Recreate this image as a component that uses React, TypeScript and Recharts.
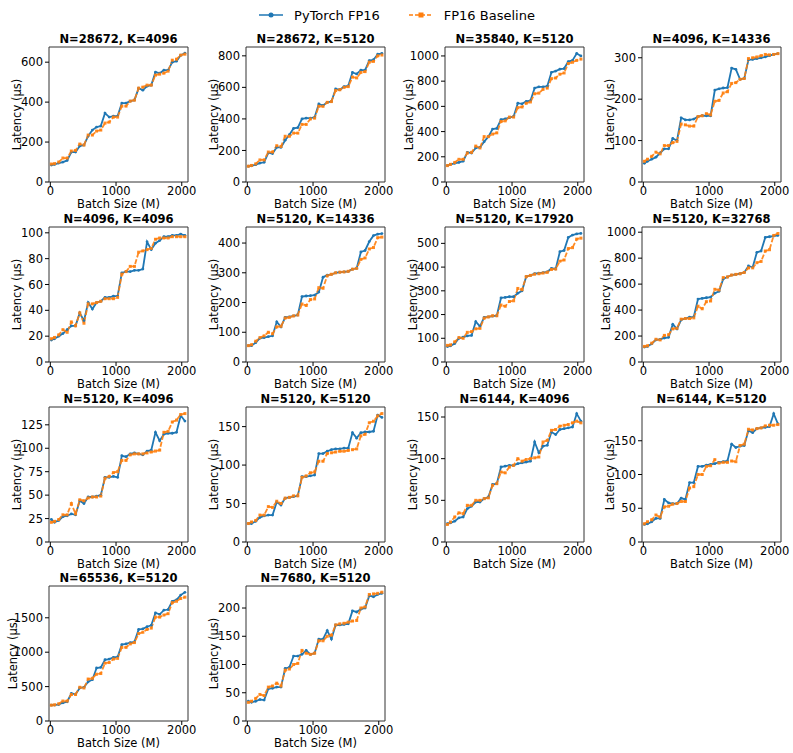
import React from 'react';
import { LineChart, Line, XAxis, YAxis, ReferenceArea } from 'recharts';

const FONT = '"DejaVu Sans", Verdana, sans-serif';
const BLUE = '#1f77b4';
const ORANGE = '#ff7f0e';

// ---------- data ----------
const batchSizes = [16, 64, 128, 192, 256, 320, 384, 448, 512, 576, 640, 704, 768, 832, 896, 960, 1024, 1088, 1152, 1216, 1280, 1344, 1408, 1472, 1536, 1600, 1664, 1728, 1792, 1856, 1920, 1984, 2048];
const xTicks = [0, 1000, 2000];

const titles = [
  'N=28672, K=4096', 'N=28672, K=5120', 'N=35840, K=5120', 'N=4096, K=14336',
  'N=4096, K=4096', 'N=5120, K=14336', 'N=5120, K=17920', 'N=5120, K=32768',
  'N=5120, K=4096', 'N=5120, K=5120', 'N=6144, K=4096', 'N=6144, K=5120',
  'N=65536, K=5120', 'N=7680, K=5120',
];

const yTicks1 = [0, 200, 400, 600];
const yTicks2 = [0, 200, 400, 600, 800];
const yTicks3 = [0, 200, 400, 600, 800, 1000];
const yTicks4 = [0, 100, 200, 300];
const yTicks5 = [0, 20, 40, 60, 80, 100];
const yTicks6 = [0, 100, 200, 300, 400];
const yTicks7 = [0, 100, 200, 300, 400, 500];
const yTicks8 = [0, 200, 400, 600, 800, 1000];
const yTicks9 = [0, 25, 50, 75, 100, 125];
const yTicks10 = [0, 50, 100, 150];
const yTicks11 = [0, 50, 100, 150];
const yTicks12 = [0, 50, 100, 150];
const yTicks13 = [0, 500, 1000, 1500];
const yTicks14 = [0, 50, 100, 150, 200];

const torch1 = [85, 88, 95, 100, 108, 150, 150, 180, 185, 230, 260, 275, 280, 345, 325, 330, 330, 395, 395, 405, 410, 470, 460, 480, 485, 550, 545, 560, 560, 600, 605, 635, 645];
const base1 = [90, 92, 100, 120, 120, 155, 158, 190, 185, 235, 235, 255, 260, 295, 300, 325, 325, 380, 380, 405, 410, 470, 475, 485, 485, 535, 540, 545, 555, 610, 615, 635, 640];
const torch2 = [100, 103, 110, 120, 125, 185, 180, 220, 220, 265, 300, 340, 345, 400, 405, 405, 410, 495, 485, 505, 510, 590, 585, 605, 610, 695, 685, 710, 710, 770, 775, 810, 815];
const base2 = [100, 105, 115, 140, 140, 190, 190, 230, 225, 290, 290, 310, 310, 365, 365, 400, 405, 480, 480, 505, 510, 580, 585, 600, 605, 665, 660, 695, 700, 760, 765, 800, 805];
const torch3 = [130, 140, 148, 155, 165, 235, 230, 270, 275, 320, 360, 420, 425, 495, 500, 510, 520, 625, 620, 640, 645, 745, 755, 755, 760, 870, 880, 895, 900, 955, 965, 1020, 1000];
const base3 = [130, 140, 155, 180, 180, 230, 235, 285, 270, 360, 360, 380, 390, 480, 485, 515, 515, 590, 595, 625, 635, 700, 705, 735, 745, 820, 825, 855, 865, 940, 950, 965, 975];
const torch4 = [45, 50, 55, 60, 70, 80, 80, 105, 100, 155, 150, 150, 152, 158, 160, 160, 160, 222, 225, 227, 228, 275, 272, 248, 250, 295, 296, 298, 300, 302, 305, 308, 310];
const base4 = [50, 55, 62, 72, 68, 88, 88, 95, 98, 140, 138, 135, 135, 158, 160, 165, 162, 195, 197, 215, 218, 238, 240, 248, 250, 298, 300, 302, 305, 308, 307, 308, 310];
const torch5 = [17, 18, 20, 22, 25, 28, 28, 38, 32, 46, 41, 46, 47, 50, 50, 51, 51, 69, 70, 70, 71, 71, 72, 93, 87, 92, 94, 97, 97, 98, 98, 99, 98];
const base5 = [18, 19, 21, 25, 23, 31, 28, 38, 30, 45, 45, 46, 47, 49, 49, 49, 50, 68, 70, 74, 74, 85, 86, 87, 88, 95, 96, 96, 96, 97, 97, 97, 97];
const torch6 = [55, 55, 65, 80, 82, 85, 88, 135, 118, 150, 152, 155, 158, 220, 222, 223, 225, 235, 285, 292, 295, 300, 302, 303, 305, 312, 315, 370, 375, 405, 425, 430, 432];
const base6 = [55, 58, 70, 82, 88, 100, 95, 118, 120, 148, 150, 155, 158, 195, 190, 210, 212, 250, 248, 290, 295, 300, 302, 303, 305, 312, 315, 345, 350, 380, 385, 418, 420];
const torch7 = [65, 68, 78, 100, 105, 110, 112, 170, 150, 188, 190, 193, 195, 270, 272, 275, 275, 290, 300, 360, 365, 372, 375, 377, 380, 395, 392, 465, 470, 525, 535, 540, 542];
const base7 = [70, 72, 85, 103, 100, 125, 128, 140, 142, 185, 190, 195, 195, 240, 235, 255, 258, 310, 305, 360, 365, 370, 372, 375, 378, 390, 392, 425, 430, 478, 482, 518, 522];
const torch8 = [115, 120, 140, 170, 175, 185, 190, 290, 255, 325, 335, 345, 348, 485, 490, 495, 500, 530, 545, 640, 655, 670, 675, 680, 690, 740, 730, 845, 855, 960, 965, 970, 975];
const base8 = [120, 125, 145, 175, 170, 205, 210, 255, 260, 330, 335, 335, 340, 430, 410, 465, 470, 560, 555, 650, 655, 670, 675, 680, 690, 725, 725, 765, 775, 855, 865, 975, 990];
const torch9 = [24, 21, 23, 27, 28, 30, 29, 44, 41, 48, 48, 49, 50, 69, 69, 70, 69, 92, 91, 94, 95, 94, 93, 97, 98, 117, 108, 115, 116, 116, 117, 135, 129];
const base9 = [21, 22, 24, 29, 29, 41, 30, 45, 44, 47, 48, 48, 49, 68, 70, 74, 75, 87, 87, 93, 94, 94, 94, 95, 96, 97, 98, 117, 118, 128, 130, 136, 137];
const torch10 = [24, 24, 27, 32, 34, 35, 35, 52, 48, 57, 58, 59, 60, 85, 85, 86, 87, 115, 115, 118, 120, 121, 121, 122, 122, 142, 135, 142, 143, 143, 144, 165, 162];
const base10 = [24, 26, 28, 35, 35, 46, 45, 53, 50, 57, 58, 60, 60, 84, 86, 90, 91, 105, 105, 115, 116, 117, 118, 118, 119, 120, 121, 138, 140, 155, 157, 164, 167];
const torch11 = [22, 23, 25, 29, 30, 40, 43, 48, 48, 52, 54, 69, 70, 90, 91, 92, 92, 94, 95, 96, 97, 120, 107, 115, 116, 132, 129, 135, 136, 137, 138, 154, 145];
const base11 = [21, 24, 30, 35, 34, 44, 44, 50, 50, 52, 53, 68, 70, 84, 83, 90, 92, 100, 97, 99, 100, 101, 102, 120, 122, 134, 135, 139, 140, 141, 143, 145, 143];
const torch12 = [26, 27, 30, 35, 35, 63, 58, 57, 57, 65, 63, 88, 88, 112, 112, 114, 115, 116, 118, 119, 120, 145, 140, 142, 143, 165, 162, 168, 169, 170, 171, 190, 175];
const base12 = [27, 30, 33, 40, 37, 52, 53, 56, 57, 60, 60, 80, 82, 100, 100, 112, 113, 122, 117, 118, 118, 120, 119, 143, 145, 167, 166, 168, 169, 172, 173, 173, 174];
const torch13 = [230, 232, 240, 265, 280, 400, 390, 480, 490, 570, 600, 770, 780, 890, 900, 925, 930, 1110, 1120, 1140, 1150, 1330, 1340, 1370, 1390, 1570, 1550, 1610, 1620, 1740, 1760, 1830, 1870];
const base13 = [230, 235, 250, 290, 290, 385, 385, 490, 480, 610, 620, 680, 690, 840, 850, 900, 910, 1070, 1070, 1120, 1140, 1270, 1290, 1330, 1350, 1510, 1510, 1540, 1560, 1720, 1740, 1780, 1800];
const torch14 = [35, 33, 35, 38, 37, 57, 58, 60, 60, 93, 95, 115, 115, 118, 125, 118, 120, 145, 145, 160, 145, 170, 170, 171, 172, 195, 193, 198, 200, 222, 220, 224, 226];
const base14 = [33, 35, 40, 47, 45, 60, 62, 67, 62, 90, 92, 100, 102, 125, 120, 118, 120, 142, 142, 150, 152, 170, 172, 173, 175, 177, 178, 200, 202, 224, 225, 226, 228];

const torchSeries = [torch1, torch2, torch3, torch4, torch5, torch6, torch7, torch8, torch9, torch10, torch11, torch12, torch13, torch14];
const baseSeries = [base1, base2, base3, base4, base5, base6, base7, base8, base9, base10, base11, base12, base13, base14];
const yTickSets = [yTicks1, yTicks2, yTicks3, yTicks4, yTicks5, yTicks6, yTicks7, yTicks8, yTicks9, yTicks10, yTicks11, yTicks12, yTicks13, yTicks14];
// upper y limits (auto-scaled top of each panel)
const yTops = [676, 856, 1071, 326, 104.5, 454, 569, 1040, 144, 175.5, 162, 200, 1962, 239];

// ---------- layout ----------
const PLOT_W = 139;
const PLOT_H = 135;
const Y_W = 48;
const X_H = 34;
const M_TOP = 4;
const M_RIGHT = 16;
const X_DOMAIN: [number, number] = [-20, 2095];
const colLefts = [49, 246, 445, 642];
const rowTops = [47, 227, 407, 586];

const tickStyle = { fontSize: 11.5, fill: '#000', fontFamily: FONT };
const labelStyle = { fontSize: 11.5, fill: '#000', fontFamily: FONT };

const SquareDot = (props: any) => {
  const { cx, cy, index } = props;
  if (cx == null || cy == null) return <g key={`s${index}`} />;
  return <rect key={`s${index}`} x={cx - 1.5} y={cy - 1.5} width={3} height={3} fill={ORANGE} fillOpacity={0.9} />;
};

function Panel({ idx }: { idx: number }) {
  const col = idx % 4;
  const row = Math.floor(idx / 4);
  const left = colLefts[col];
  const top = rowTops[row];
  const ticks = yTickSets[idx];
  const yTop = yTops[idx];
  const maxTick = ticks[ticks.length - 1];
  const labelCenter = maxTick >= 1000 ? 36 : 32;
  const data = batchSizes.map((x, i) => ({ x, pytorch: torchSeries[idx][i], baseline: baseSeries[idx][i] }));
  return (
    <>
      <div
        style={{
          position: 'absolute',
          left: left - 20,
          top: top - 14,
          width: PLOT_W + 40,
          textAlign: 'center',
          fontFamily: FONT,
          fontWeight: 'bold',
          fontSize: 11.5,
          lineHeight: '13px',
          whiteSpace: 'nowrap',
          color: '#000',
        }}
      >
        {titles[idx]}
      </div>
      <div style={{ position: 'absolute', left: left - Y_W, top: top - M_TOP }}>
        <LineChart
          width={Y_W + PLOT_W + M_RIGHT}
          height={M_TOP + PLOT_H + X_H}
          data={data}
          margin={{ top: M_TOP, right: M_RIGHT, bottom: 0, left: 0 }}
        >
          <XAxis
            dataKey="x"
            type="number"
            domain={X_DOMAIN}
            ticks={xTicks}
            interval={0}
            height={X_H}
            axisLine={false}
            tickLine={{ stroke: '#000' }}
            tickSize={4}
            tickMargin={1}
            tick={tickStyle}
            label={{ value: 'Batch Size (M)', position: 'insideBottom', offset: 8, style: labelStyle }}
          />
          <YAxis
            type="number"
            domain={[0, yTop]}
            ticks={ticks}
            interval={0}
            width={Y_W}
            axisLine={false}
            tickLine={{ stroke: '#000' }}
            tickSize={4}
            tickMargin={2}
            tick={tickStyle}
            label={{
              value: 'Latency (µs)',
              angle: -90,
              position: 'insideLeft',
              offset: Y_W - labelCenter,
              style: { ...labelStyle, textAnchor: 'middle' },
            }}
          />
          <ReferenceArea
            x1={X_DOMAIN[0]}
            x2={X_DOMAIN[1]}
            y1={0}
            y2={yTop}
            fill="none"
            stroke="#333"
            strokeWidth={1}
            ifOverflow="visible"
          />
          <Line
            dataKey="pytorch"
            type="linear"
            stroke={BLUE}
            strokeWidth={1.8}
            dot={{ r: 1.4, fill: BLUE, stroke: 'none' }}
            activeDot={false}
            isAnimationActive={false}
          />
          <Line
            dataKey="baseline"
            type="linear"
            stroke={ORANGE}
            strokeOpacity={0.9}
            strokeWidth={1.8}
            strokeDasharray="5 2"
            dot={SquareDot}
            activeDot={false}
            isAnimationActive={false}
          />
        </LineChart>
      </div>
    </>
  );
}

function Legend() {
  return (
    <div
      style={{
        position: 'absolute',
        left: 0,
        top: 6,
        width: 793,
        height: 18,
        display: 'flex',
        justifyContent: 'center',
        alignItems: 'center',
        fontFamily: FONT,
        fontSize: 13,
        color: '#000',
      }}
    >
      <svg width={26} height={12} style={{ display: 'block' }}>
        <line x1={1} y1={6} x2={25} y2={6} stroke={BLUE} strokeWidth={1.5} />
        <circle cx={13} cy={6} r={2.5} fill={BLUE} />
      </svg>
      <span style={{ marginLeft: 10, marginRight: 28 }}>PyTorch FP16</span>
      <svg width={26} height={12} style={{ display: 'block' }}>
        <line x1={1} y1={6} x2={25} y2={6} stroke={ORANGE} strokeWidth={1.5} strokeDasharray="4 2" />
        <rect x={10.5} y={3.5} width={5} height={5} fill={ORANGE} />
      </svg>
      <span style={{ marginLeft: 10 }}>FP16 Baseline</span>
    </div>
  );
}

export default function App() {
  return (
    <div style={{ position: 'absolute', left: 0, top: 0, width: 793, height: 753, background: '#fff', overflow: 'hidden' }}>
      <Legend />
      {titles.map((_, i) => (
        <Panel key={i} idx={i} />
      ))}
    </div>
  );
}
